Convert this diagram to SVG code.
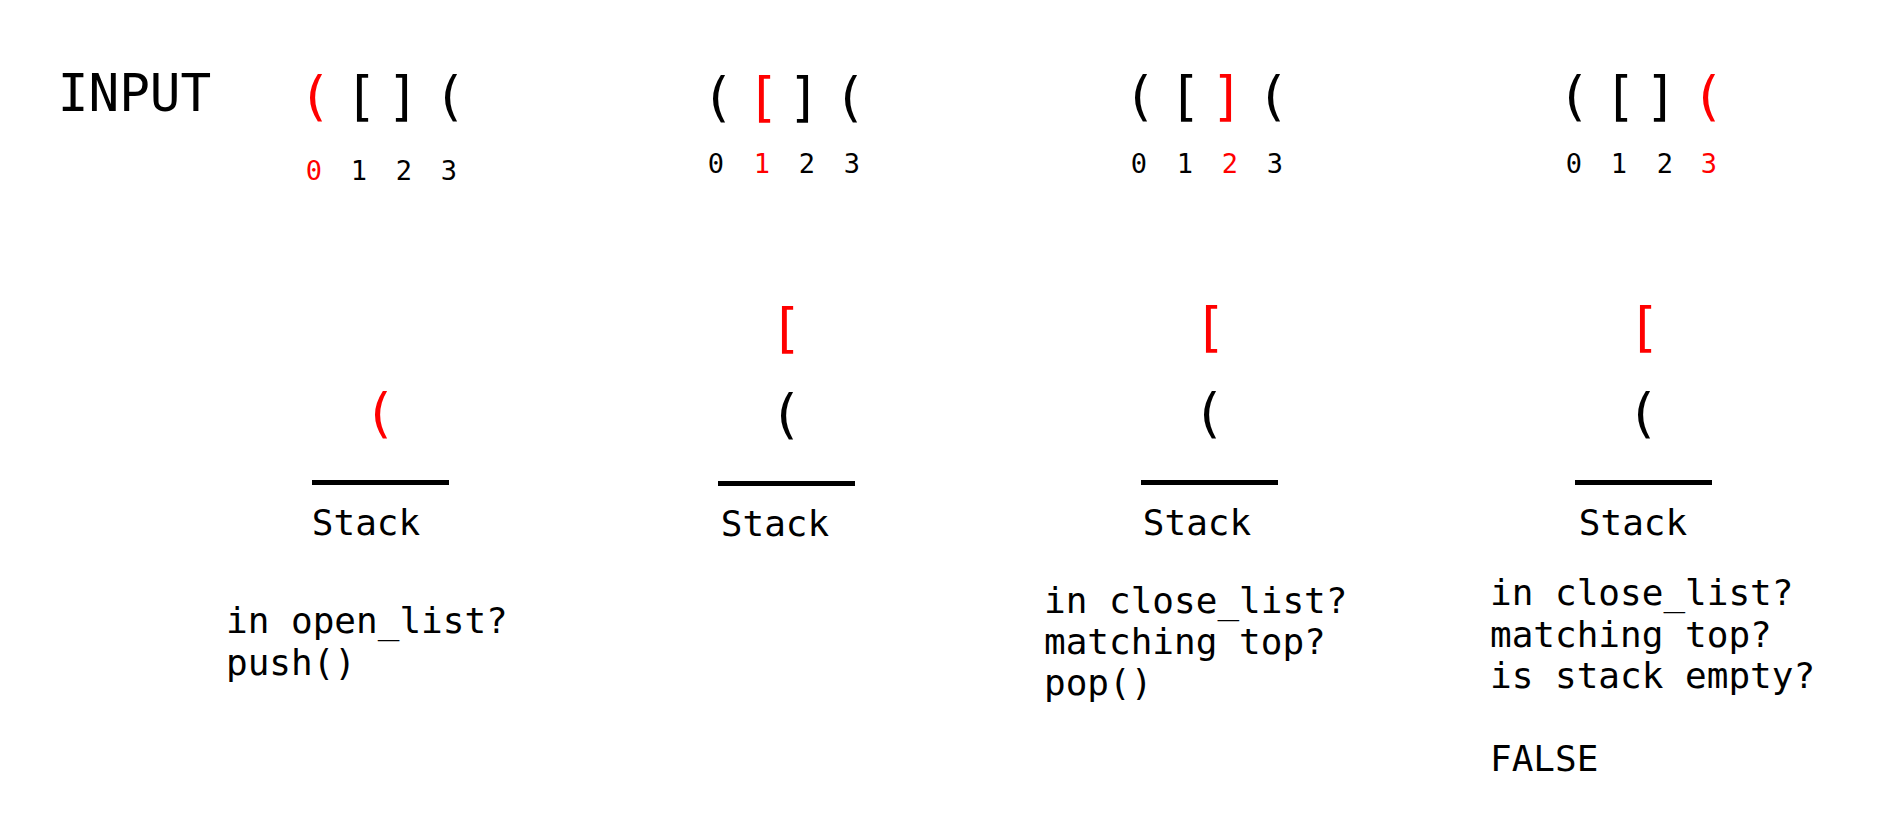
<svg xmlns="http://www.w3.org/2000/svg" width="1879" height="837" viewBox="0 0 1879 837">
<style>
text{font-family:"DejaVu Sans Mono","Liberation Mono",monospace;fill:#000}
.r{fill:#ff0000}
.b{font-size:54px;text-anchor:middle}
.d{font-size:27px;text-anchor:middle}
.s{font-size:36px;text-anchor:middle}
.t{font-size:36px}
.base{stroke:#000;stroke-width:5}
</style>
<rect width="1879" height="837" fill="#fff"/>
<g id="input-label"><text x="134.5" y="111" font-size="51" text-anchor="middle">INPUT</text></g>
<g id="step0">
<text class="b r" x="315" y="115">(</text><text class="b" x="361" y="115">[</text><text class="b" x="403" y="115">]</text><text class="b" x="450" y="115">(</text>
<text class="d r" x="314" y="180">0</text><text class="d" x="359" y="180">1</text><text class="d" x="404" y="180">2</text><text class="d" x="449" y="180">3</text>
<text class="b r" x="380" y="432">(</text>
<line class="base" x1="312" y1="482.5" x2="449" y2="482.5"/>
<text class="s" x="366" y="535">Stack</text>
<text class="t" x="226" y="633">in open_list?<tspan x="226" y="675">push()</tspan></text>
</g>
<g id="step1">
<text class="b" x="718" y="116">(</text><text class="b r" x="763" y="116">[</text><text class="b" x="804" y="116">]</text><text class="b" x="850" y="116">(</text>
<text class="d" x="716" y="173">0</text><text class="d r" x="762" y="173">1</text><text class="d" x="807" y="173">2</text><text class="d" x="852" y="173">3</text>
<text class="b r" x="786" y="347">[</text>
<text class="b" x="786" y="433">(</text>
<line class="base" x1="718" y1="483.5" x2="855" y2="483.5"/>
<text class="s" x="775" y="536">Stack</text>
</g>
<g id="step2">
<text class="b" x="1140" y="115">(</text><text class="b" x="1185" y="115">[</text><text class="b r" x="1227" y="115">]</text><text class="b" x="1273" y="115">(</text>
<text class="d" x="1139" y="173">0</text><text class="d" x="1185" y="173">1</text><text class="d r" x="1230" y="173">2</text><text class="d" x="1275" y="173">3</text>
<text class="b r" x="1210" y="346">[</text>
<text class="b" x="1209" y="432">(</text>
<line class="base" x1="1141" y1="482.5" x2="1278" y2="482.5"/>
<text class="s" x="1197" y="535">Stack</text>
<text class="t" x="1044" y="613">in close_list?<tspan x="1044" y="654">matching top?</tspan><tspan x="1044" y="695">pop()</tspan></text>
</g>
<g id="step3">
<text class="b" x="1574" y="115">(</text><text class="b" x="1620" y="115">[</text><text class="b" x="1661" y="115">]</text><text class="b r" x="1708" y="115">(</text>
<text class="d" x="1574" y="173">0</text><text class="d" x="1619" y="173">1</text><text class="d" x="1665" y="173">2</text><text class="d r" x="1709" y="173">3</text>
<text class="b r" x="1644" y="346">[</text>
<text class="b" x="1643" y="432">(</text>
<line class="base" x1="1575" y1="482.5" x2="1712" y2="482.5"/>
<text class="s" x="1633" y="535">Stack</text>
<text class="t" x="1490" y="605">in close_list?<tspan x="1490" y="646.5">matching top?</tspan><tspan x="1490" y="688">is stack empty?</tspan><tspan x="1490" y="771">FALSE</tspan></text>
</g>
<g id="connectors"/>
</svg>
